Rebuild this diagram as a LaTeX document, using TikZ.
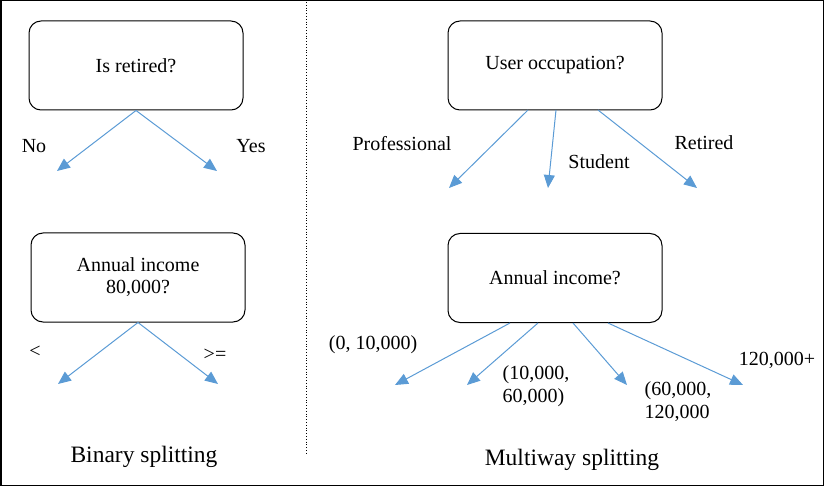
\documentclass[tikz,border=0pt]{standalone}
\usepackage{fontspec}
\setmainfont{Liberation Serif}
\usetikzlibrary{arrows.meta}

\definecolor{branchblue}{RGB}{91,155,213}

\tikzset{
  splitbox/.style={draw, rounded corners=12pt, line width=1pt, minimum width=214pt,
    minimum height=89pt, align=center, inner sep=0pt, font=\fontsize{20}{22}\selectfont},
  branch/.style={draw=branchblue, line width=1pt, -{Triangle[length=13pt,width=11pt]}},
  branchlabel/.style={inner sep=0pt, font=\fontsize{20}{23}\selectfont},
  title/.style={inner sep=0pt, font=\fontsize{23.5}{26}\selectfont}
}

\begin{document}
\begin{tikzpicture}[x=1pt,y=-1pt]

\useasboundingbox (0,0) rectangle (824,486);

% Rahmen und Trennlinie
\draw[line width=1.5pt] (0.75,0.75) rectangle (823.25,485.25);
\draw[dotted, line width=0.8pt] (306,2) -- (306,453);

% Binary splitting: Fragen
\node[splitbox] (retired) at (136,65.5) {Is retired?};
\node[splitbox] (income) at (138,277.5) {Annual income\\80,000?};

% Binary splitting: Aeste
\coordinate (no) at (57,171);
\coordinate (yes) at (217,171);
\draw[branch] (retired.south) -- (no);
\draw[branch] (retired.south) -- (yes);
\node[branchlabel] (nolab) at (34,146) {No};
\node[branchlabel] (yeslab) at (251,146) {Yes};

\coordinate (less) at (58,384);
\coordinate (geq) at (218,384);
\draw[branch] (income.south) -- (less);
\draw[branch] (income.south) -- (geq);
\node[branchlabel] (lesslab) at (35,352) {<};
\node[branchlabel] (geqlab) at (215,355) {>=};

\node[title] (binary) at (144,457) {Binary splitting};

% Multiway splitting: Fragen
\node[splitbox] (occup) at (555,65.5) {User occupation?};
\node[splitbox] (annual) at (555,278) {Annual income?};

% Multiway splitting: Beruf
\coordinate (o1) at (528,110);
\coordinate (o2) at (556,110);
\coordinate (o3) at (598,110);
\coordinate (prof) at (449,188);
\coordinate (stud) at (548,188);
\coordinate (ret) at (697,188);
\draw[branch] (o1) -- (prof);
\draw[branch] (o2) -- (stud);
\draw[branch] (o3) -- (ret);
\node[branchlabel] (proflab) at (402,144) {Professional};
\node[branchlabel] (studlab) at (599,162) {Student};
\node[branchlabel] (retlab) at (704,143) {Retired};

% Multiway splitting: Einkommen
\coordinate (a1) at (510,323);
\coordinate (a2) at (538,323);
\coordinate (a3) at (573,323);
\coordinate (a4) at (608,323);
\coordinate (r1) at (395,385);
\coordinate (r2) at (467,385);
\coordinate (r3) at (627,385);
\coordinate (r4) at (743,385);
\draw[branch] (a1) -- (r1);
\draw[branch] (a2) -- (r2);
\draw[branch] (a3) -- (r3);
\draw[branch] (a4) -- (r4);
\node[branchlabel] (r1lab) at (373,345) {(0, 10,000)};
\node[branchlabel, align=left] (r2lab) at (536,386) {(10,000,\\60,000)};
\node[branchlabel, align=left] (r3lab) at (678,402) {(60,000,\\120,000};
\node[branchlabel] (r4lab) at (777,360) {120,000+};

\node[title] (multi) at (572,460) {Multiway splitting};

\end{tikzpicture}
\end{document}
